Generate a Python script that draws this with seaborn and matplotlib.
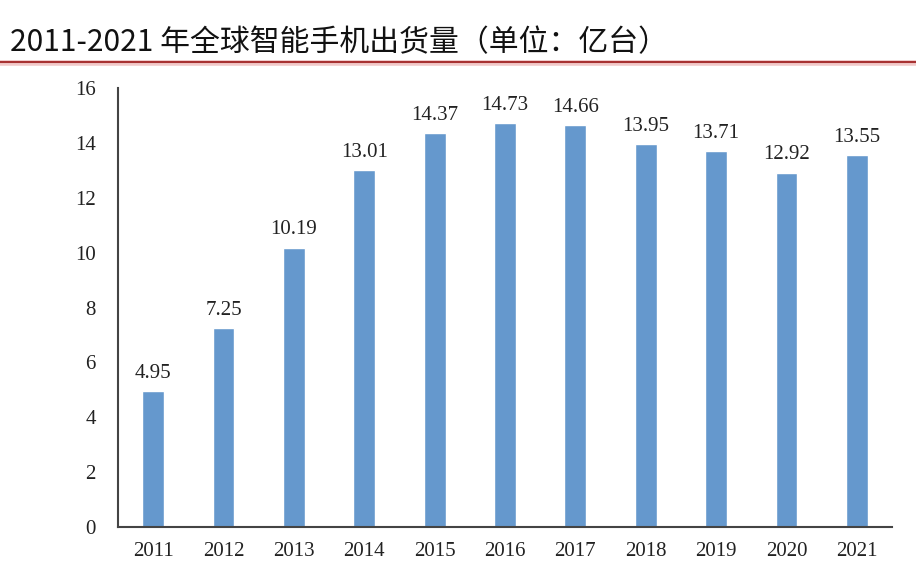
import matplotlib
matplotlib.use("Agg")
import matplotlib.pyplot as plt
import seaborn as sns
import pandas as pd

years = ["2011", "2012", "2013", "2014", "2015", "2016", "2017", "2018", "2019", "2020", "2021"]
shipments = [4.95, 7.25, 10.19, 13.01, 14.37, 14.73, 14.66, 13.95, 13.71, 12.92, 13.55]
y_ticks = [0, 2, 4, 6, 8, 10, 12, 14, 16]
title = "2011-2021 年全球智能手机出货量（单位：亿台）"

df = pd.DataFrame({"year": years, "shipments": shipments})

sns.set_style("white")
plt.rcParams["font.family"] = ["Liberation Serif", "DejaVu Serif"]

fig = plt.figure(figsize=(9.16, 5.8), dpi=100)
ax = fig.add_axes([0.1288, 0.0914, 0.845, 0.7566])

sns.barplot(data=df, x="year", y="shipments", color="#6598cd", saturation=1,
            width=0.31, ax=ax)
ax.bar_label(ax.containers[0], labels=[f"{v:.2f}" for v in shipments],
             padding=6, fontsize=15, color="#222222")

ax.set_xlim(-0.5, len(years) - 0.5)
ax.set_ylim(0, 16)
ax.set_yticks(y_ticks)
ax.set_xlabel("")
ax.set_ylabel("")
ax.tick_params(axis="both", length=0, labelsize=15, colors="#222222")
ax.tick_params(axis="x", pad=11)
ax.tick_params(axis="y", pad=16)
for s in ["top", "right"]:
    ax.spines[s].set_visible(False)
for s in ["left", "bottom"]:
    ax.spines[s].set_color("#444444")
    ax.spines[s].set_linewidth(1.5)

# title and red rule
fig.text(0.011, 0.926, title, fontsize=21.5, color="#111111",
         family=["Noto Sans CJK SC", "DejaVu Sans"], va="center", ha="left")
fig.add_artist(plt.Line2D([0, 1], [0.891, 0.891], color="#f2caca", lw=4))
fig.add_artist(plt.Line2D([0, 1], [0.893, 0.893], color="#a83232", lw=1.5))

fig.savefig("out.png", dpi=100)
